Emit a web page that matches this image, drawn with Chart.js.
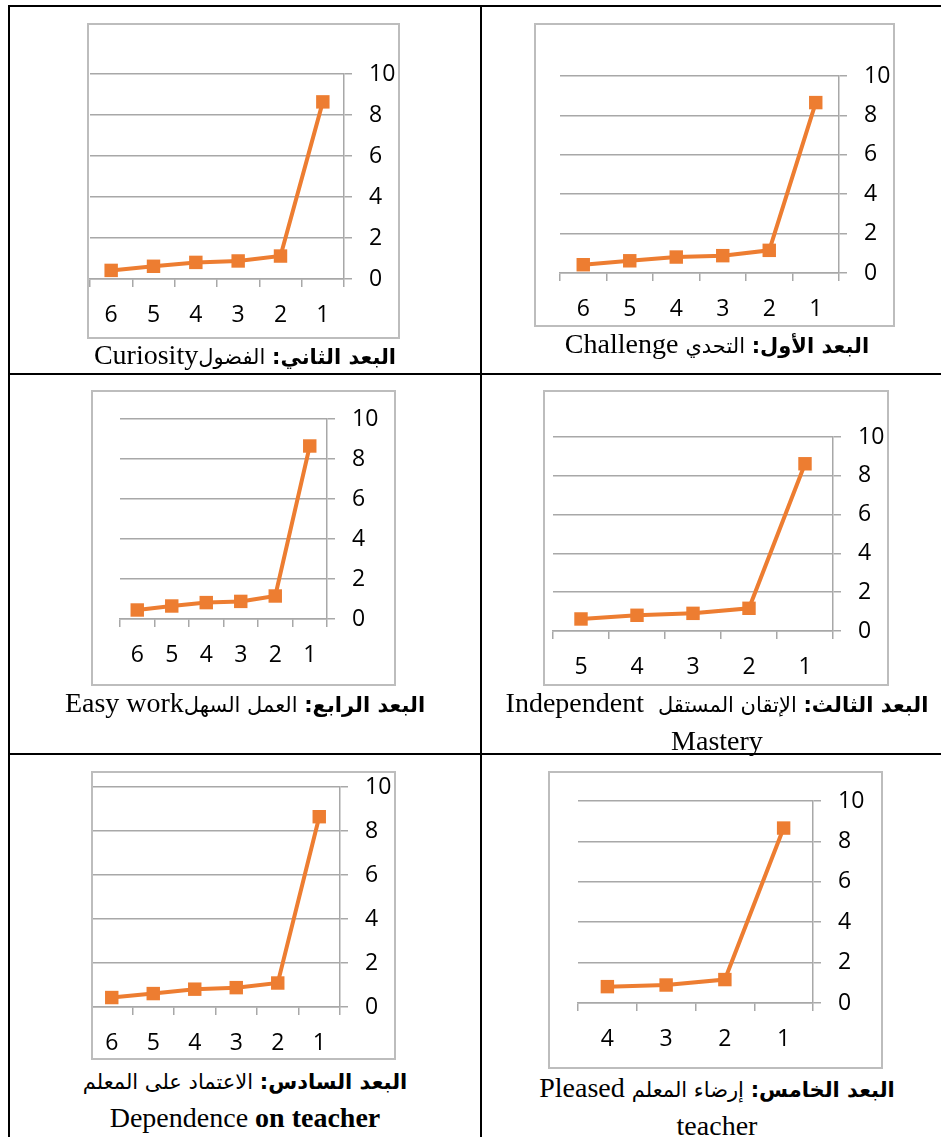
<!DOCTYPE html>
<html>
<head>
<meta charset="utf-8">
<script src="https://cdn.jsdelivr.net/npm/chart.js@4"></script>
<style>
  html, body { margin: 0; padding: 0; background: #fff; }
  body { width: 941px; height: 1137px; position: relative; overflow: hidden; }
  .rule { position: absolute; background: #000; }
  .box { position: absolute; box-sizing: border-box; border: 2px solid #bdbdbd; }
  canvas.chart { position: absolute; }
  .cap {
    position: absolute; width: 460px; text-align: center; direction: rtl;
    font-family: "Liberation Serif", "DejaVu Sans", serif; font-size: 28px;
    line-height: 35px; color: #000; white-space: nowrap;
  }
  .ar { font-family: "DejaVu Sans", sans-serif; font-size: 21px; }
</style>
</head>
<body>

<!-- table rules -->
<div class="rule" style="left:8px;top:5px;width:2px;height:1132px"></div>
<div class="rule" style="left:8px;top:5px;width:933px;height:2px"></div>
<div class="rule" style="left:480px;top:5px;width:2px;height:1132px"></div>
<div class="rule" style="left:8px;top:373px;width:933px;height:2px"></div>
<div class="rule" style="left:8px;top:753px;width:933px;height:2px"></div>

<canvas class="chart" id="cCuriosity"></canvas>
<canvas class="chart" id="cChallenge"></canvas>
<canvas class="chart" id="cEasy"></canvas>
<canvas class="chart" id="cMastery"></canvas>
<canvas class="chart" id="cDependence"></canvas>
<canvas class="chart" id="cPleased"></canvas>

<div class="cap" style="left:15px;top:337px"><span class="ar"><b>البعد الثاني:</b> الفضول</span>Curiosity</div>
<div class="cap" style="left:487px;top:326px"><span class="ar"><b>البعد الأول:</b> التحدي</span> Challenge</div>
<div class="cap" style="left:15px;top:685px"><span class="ar"><b>البعد الرابع:</b> العمل السهل</span>Easy work</div>
<div class="cap" style="left:487px;top:685px"><span class="ar"><b>البعد الثالث:</b> الإتقان المستقل</span>&nbsp; Independent<br>Mastery</div>
<div class="cap" style="left:15px;top:1062px"><span class="ar"><b>البعد السادس:</b> الاعتماد على المعلم</span><br><span dir="ltr">Dependence <b>on teacher</b></span></div>
<div class="cap" style="left:487px;top:1070px"><span class="ar"><b>البعد الخامس:</b> إرضاء المعلم</span> Pleased<br>teacher</div>

<script>
// categories (axis runs right-to-left: 1 on the right)
const cats6 = ['1', '2', '3', '4', '5', '6'];
const cats5 = ['1', '2', '3', '4', '5'];
const cats4 = ['1', '2', '3', '4'];

// y axis range / step
const yMin = 0;
const yMax = 10;
const yStep = 2;

// values
const curiosityVals = [8.64, 1.12, 0.88, 0.81, 0.62, 0.42];
const challengeVals = [8.65, 1.15, 0.88, 0.81, 0.62, 0.42];
const easyWorkVals = [8.65, 1.15, 0.88, 0.82, 0.65, 0.45];
const masteryVals = [8.62, 1.17, 0.91, 0.81, 0.62];
const dependenceVals = [8.65, 1.09, 0.88, 0.81, 0.61, 0.43];
const pleasedVals = [8.66, 1.16, 0.89, 0.81];

const ORANGE = '#ED7D31';
const GRID = '#a8a8a8';

function drawPanel(id, labels, values, box) {
    const cv = document.getElementById(id);
    cv.width = box.w;
    cv.height = box.h;
    cv.style.left = box.x + 'px';
    cv.style.top = box.y + 'px';

    // grey frame around each chart
    const frame = document.createElement('div');
    frame.className = 'box';
    frame.style.left = box.x + 'px';
    frame.style.top = box.y + 'px';
    frame.style.width = box.w + 'px';
    frame.style.height = box.h + 'px';
    document.body.appendChild(frame);

    return new Chart(cv.getContext('2d'), {
        type: 'line',
        data: {
            labels: labels,
            datasets: [{
                data: values,
                borderColor: ORANGE,
                backgroundColor: ORANGE,
                borderWidth: 4,
                pointStyle: 'rect',
                pointRadius: 9.5,
                pointBorderWidth: 0,
                pointBackgroundColor: ORANGE,
                tension: 0,
                clip: false
            }]
        },
        options: {
            responsive: false,
            animation: false,
            layout: {
                autoPadding: false,
                padding: { left: box.padL, top: box.padT, right: 0, bottom: 0 }
            },
            plugins: { legend: { display: false }, tooltip: { enabled: false } },
            scales: {
                x: {
                    reverse: true,
                    offset: true,
                    afterFit: (s) => {
                        s.height = box.xH;
                        s.paddingLeft = 0;
                        s.paddingRight = 0;
                    },
                    grid: {
                        offset: true,
                        drawOnChartArea: false,
                        drawTicks: true,
                        tickLength: 8,
                        color: GRID,
                        lineWidth: 1.5
                    },
                    border: { display: true, color: GRID, width: 1.5 },
                    ticks: {
                        color: '#000',
                        padding: 15,
                        maxRotation: 0,
                        font: { family: 'Open Sans', size: 23 }
                    }
                },
                y: {
                    position: 'right',
                    min: yMin,
                    max: yMax,
                    afterFit: (s) => {
                        s.width = box.yW;
                        s.paddingTop = 0;
                        s.paddingBottom = 0;
                    },
                    grid: {
                        color: GRID,
                        lineWidth: 1.5,
                        drawTicks: true,
                        tickLength: 8
                    },
                    border: { display: true, color: GRID, width: 1.5 },
                    ticks: {
                        stepSize: yStep,
                        color: '#000',
                        padding: 17,
                        font: { family: 'Open Sans', size: 23 }
                    }
                }
            }
        }
    });
}

drawPanel('cCuriosity', cats6, curiosityVals, { x: 87, y: 23, w: 313, h: 316, padL: 3, padT: 51, yW: 56, xH: 60 });
drawPanel('cChallenge', cats6, challengeVals, { x: 534, y: 23, w: 361, h: 304, padL: 26, padT: 53, yW: 56, xH: 54 });
drawPanel('cEasy', cats6, easyWorkVals, { x: 91, y: 390, w: 305, h: 296, padL: 29, padT: 29, yW: 69, xH: 67 });
drawPanel('cMastery', cats5, masteryVals, { x: 543, y: 390, w: 346, h: 296, padL: 10, padT: 47, yW: 56, xH: 55 });
drawPanel('cDependence', cats6, dependenceVals, { x: 91, y: 771, w: 305, h: 289, padL: 0, padT: 16, yW: 56, xH: 53 });
drawPanel('cPleased', cats4, pleasedVals, { x: 548, y: 771, w: 335, h: 298, padL: 30, padT: 30, yW: 70, xH: 66 });
</script>
</body>
</html>
